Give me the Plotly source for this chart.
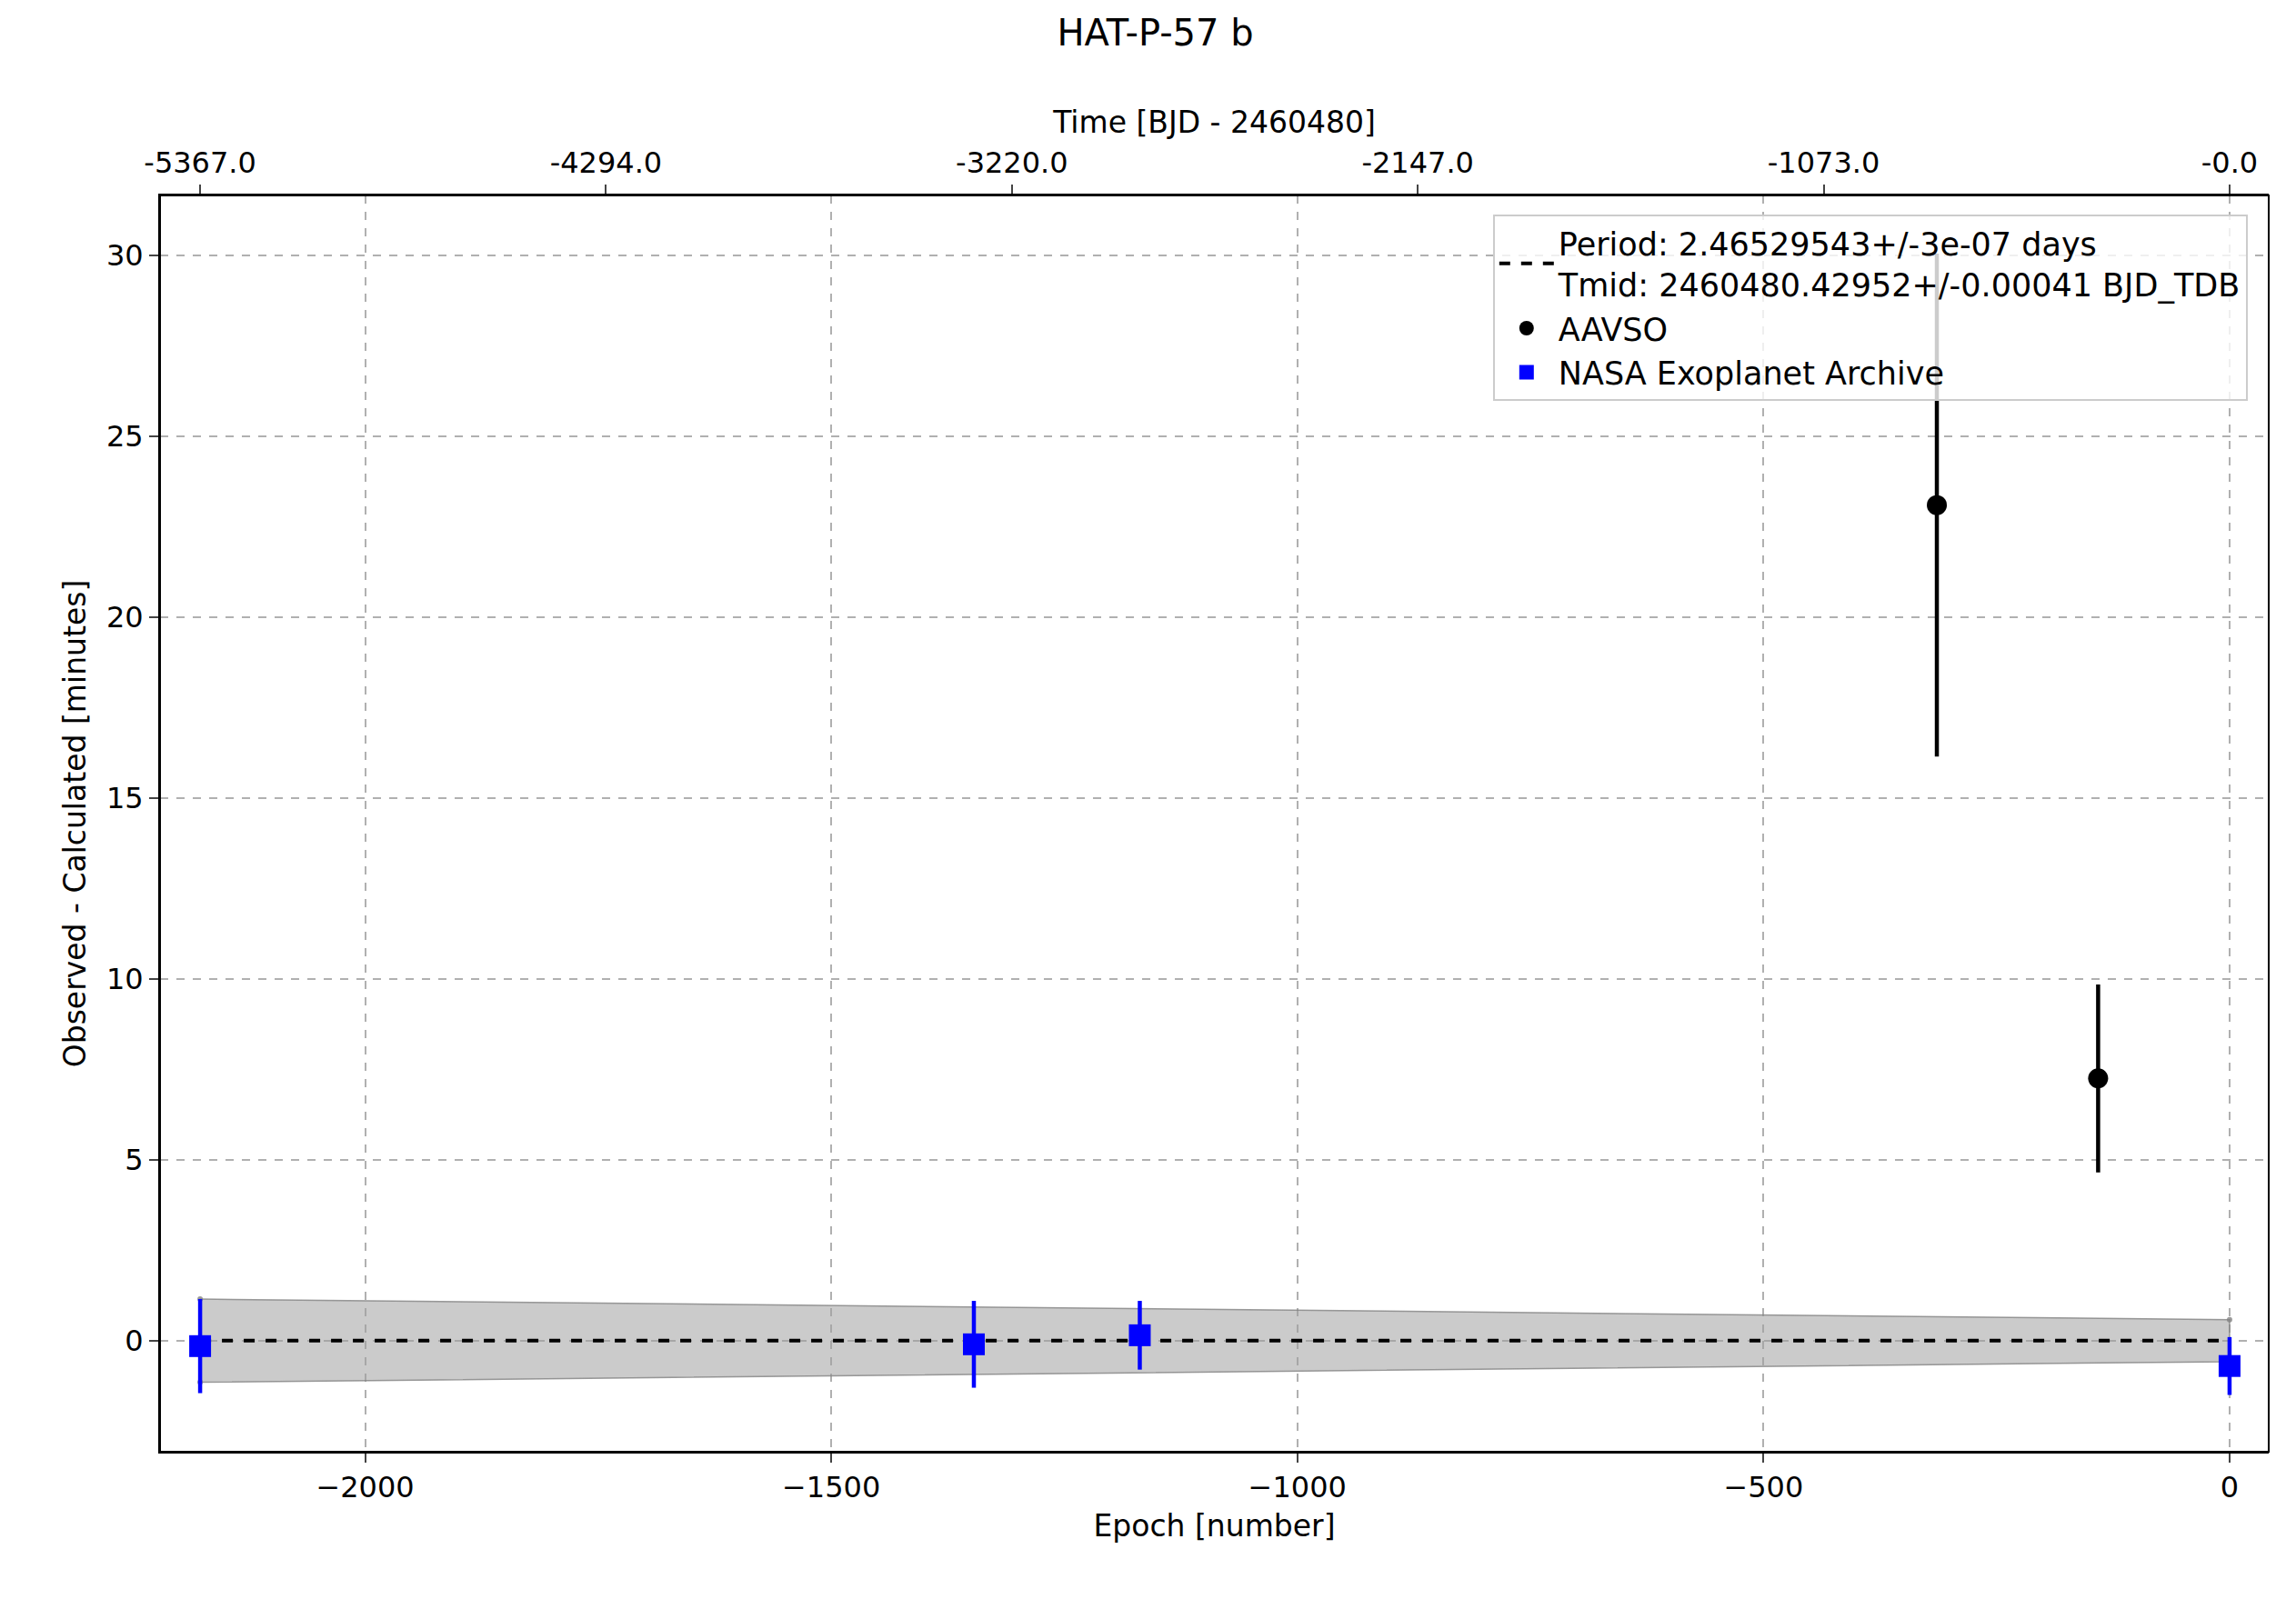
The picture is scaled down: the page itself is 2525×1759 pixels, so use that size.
import plotly.graph_objects as go

nasa_epoch = [-2177, -1347, -1169, 0]
nasa_oc = [-0.15, -0.1, 0.15, -0.7]
nasa_err = [1.3, 1.2, 0.95, 0.8]
aavso_epoch = [-314, -141]
aavso_oc = [23.1, 7.25]
aavso_err = [6.95, 2.6]
band_epoch = [-2177, 0]
band_upper = [1.15, 0.58]
band_lower = [-1.15, -0.58]
top_tick_epochs = [-2177, -1741.6, -1306.2, -870.8, -435.4, 0]
top_tick_labels = ["-5367.0", "-4294.0", "-3220.0", "-2147.0", "-1073.0", "-0.0"]

F = "DejaVu Sans"
fig = go.Figure()
fig.add_trace(go.Scatter(x=band_epoch + band_epoch[::-1], y=band_upper + band_lower[::-1],
    fill="toself", fillcolor="rgba(160,160,160,0.55)", line=dict(color="rgba(130,130,130,0.8)", width=1.5),
    showlegend=False, hoverinfo="skip"))
fig.add_trace(go.Scatter(x=band_epoch, y=[0, 0], mode="lines", line=dict(color="black", dash="dash", width=4),
    name="Period: 2.46529543+/-3e-07 days<br>Tmid: 2460480.42952+/-0.00041 BJD_TDB"))
fig.add_trace(go.Scatter(x=aavso_epoch, y=aavso_oc, mode="markers", name="AAVSO",
    marker=dict(color="black", size=22, symbol="circle"),
    error_y=dict(type="data", array=aavso_err, color="black", thickness=4.5, width=0)))
fig.add_trace(go.Scatter(x=nasa_epoch, y=nasa_oc, mode="markers", name="NASA Exoplanet Archive",
    marker=dict(color="blue", size=24, symbol="square"),
    error_y=dict(type="data", array=nasa_err, color="blue", thickness=4.5, width=0)))
fig.add_trace(go.Scatter(x=[-2000], y=[None], xaxis="x2", showlegend=False, hoverinfo="skip"))

ax = dict(showline=True, linecolor="black", linewidth=2, mirror=False, ticks="outside", ticklen=10,
          tickwidth=2, tickfont=dict(size=32, color="black"), gridcolor="#b0b0b0", griddash="dash",
          gridwidth=1.5, zeroline=False)
fig.update_layout(
    width=2525, height=1759, plot_bgcolor="white", paper_bgcolor="white",
    font=dict(family=F, color="black"),
    margin=dict(l=168, r=38, t=207, b=170),
    title=dict(text="HAT-P-57 b", x=0.5, xanchor="center", y=0.992, yanchor="top", font=dict(size=40)),
    xaxis=dict(ax, range=[-2220, 42], tickvals=[-2000, -1500, -1000, -500, 0],
               ticktext=["−2000", "−1500", "−1000", "−500", "0"],
               title=dict(text="Epoch [number]", font=dict(size=33), standoff=12)),
    xaxis2=dict(ax, range=[-2220, 42], overlaying="x", side="top", tickvals=top_tick_epochs,
                ticktext=top_tick_labels, showgrid=False, anchor="y",
                title=dict(text="Time [BJD - 2460480]", font=dict(size=33), standoff=4)),
    yaxis=dict(ax, range=[-3.07, 31.66], tickvals=[0, 5, 10, 15, 20, 25, 30],
               title=dict(text="Observed - Calculated [minutes]", font=dict(size=33), standoff=12)),
    legend=dict(x=0.99, y=0.985, xanchor="right", yanchor="top", bgcolor="rgba(255,255,255,0.8)",
                bordercolor="#cccccc", borderwidth=2, font=dict(size=35), itemwidth=60,
                tracegroupgap=14),
)
fig.add_shape(type="rect", xref="paper", yref="paper", x0=0, x1=1, y0=0, y1=1,
              line=dict(color="black", width=2))
fig.write_html("out.html")
